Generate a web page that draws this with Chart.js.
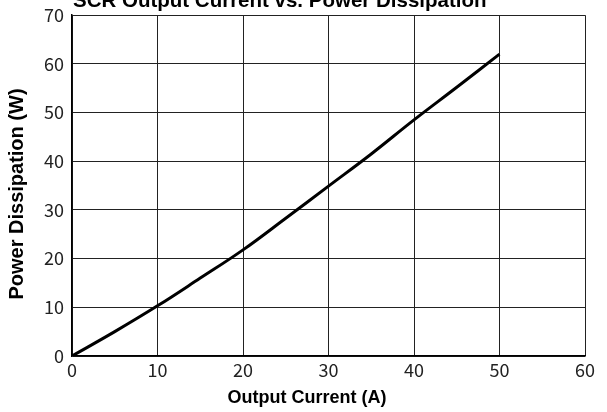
<!DOCTYPE html>
<html>
<head>
<meta charset="utf-8">
<script src="https://cdn.jsdelivr.net/npm/chart.js@4"></script>
<style>
  html, body { margin: 0; padding: 0; background: #fff; }
  #wrap { width: 607px; height: 412px; }
</style>
</head>
<body>
<div id="wrap"><canvas id="myChart"></canvas></div>
<script>
const currents = [0, 5, 10, 15, 20, 25, 30, 35, 40, 45, 50];
const powers = [0, 5, 10.3, 16, 21.8, 28.3, 34.9, 41.5, 48.5, 55.2, 62];
const xTicks = [0, 10, 20, 30, 40, 50, 60];
const yTicks = [0, 10, 20, 30, 40, 50, 60, 70];

const chartTitle = "SCR Output Current vs. Power Dissipation";
const xTitle = "Output Current (A)";
const yTitle = "Power Dissipation (W)";

// titles drawn by hand: the main one is cut off by the top edge in the original
const titlePlugin = {
  id: "titles",
  afterDraw(chart) {
    const ctx = chart.ctx;
    ctx.save();
    ctx.fillStyle = "#000";
    ctx.textBaseline = "alphabetic";

    ctx.font = "bold 20.5px 'Liberation Sans', Arial, sans-serif";
    ctx.textAlign = "left";
    ctx.fillText(chartTitle, 73, 7);

    ctx.font = "bold 18px 'Liberation Sans', Arial, sans-serif";
    ctx.textAlign = "center";
    ctx.fillText(xTitle, 307, 403);

    ctx.font = "bold 20px 'Liberation Sans', Arial, sans-serif";
    ctx.translate(23, 194);
    ctx.rotate(-Math.PI / 2);
    ctx.fillText(yTitle, 0, 0);
    ctx.restore();
  },
};

const data = {
  datasets: [
    {
      label: "Power Dissipation",
      data: currents.map((x, i) => ({ x: x, y: powers[i] })),
      borderColor: "#000",
      borderWidth: 3,
      pointRadius: 0,
      tension: 0.4,
      fill: false,
    },
  ],
};

const config = {
  type: "line",
  data: data,
  plugins: [titlePlugin],
  options: {
    maintainAspectRatio: false,
    animation: false,
    layout: { padding: { top: 15, right: 22, left: 0, bottom: 0 } },
    plugins: {
      legend: { display: false },
      tooltip: { enabled: false },
    },
    scales: {
      x: {
        type: "linear",
        min: 0,
        max: 60,
        afterBuildTicks: (axis) => { axis.ticks = xTicks.map((v) => ({ value: v })); },
        afterFit: (axis) => { axis.height = 56; },
        grid: { color: "#222", lineWidth: 1, drawTicks: false },
        border: { color: "#000", width: 1.5 },
        ticks: {
          color: "#222",
          padding: 7,
          maxRotation: 0,
          font: { family: "'Noto Sans CJK JP', sans-serif", size: 18, lineHeight: 0.8 },
        },
      },
      y: {
        min: 0,
        max: 70,
        afterBuildTicks: (axis) => { axis.ticks = yTicks.map((v) => ({ value: v })); },
        afterFit: (axis) => { axis.width = 72; },
        grid: { color: "#222", lineWidth: 1, drawTicks: false },
        border: { color: "#000", width: 1.5 },
        ticks: {
          color: "#222",
          padding: 8,
          font: { family: "'Noto Sans CJK JP', sans-serif", size: 18, lineHeight: 0.8 },
        },
      },
    },
  },
};

new Chart(document.getElementById("myChart"), config);
</script>
</body>
</html>
